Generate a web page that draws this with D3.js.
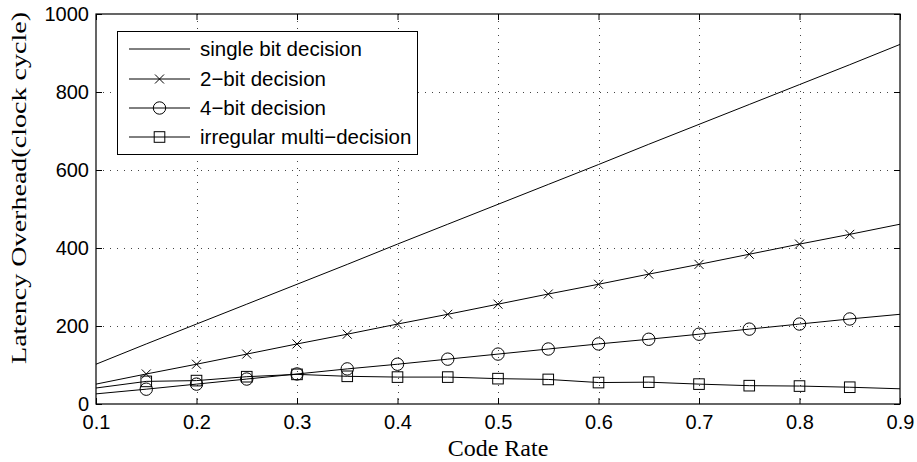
<!DOCTYPE html>
<html>
<head>
<meta charset="utf-8">
<script src="https://cdn.jsdelivr.net/npm/d3@7"></script>
<style>
html,body{margin:0;padding:0;background:#fff;}
svg{display:block;}
</style>
</head>
<body>
<svg id="chart" width="917" height="462"></svg>
<script>
// ---- data ----
const codeRates = [0.1,0.15,0.2,0.25,0.3,0.35,0.4,0.45,0.5,0.55,0.6,0.65,0.7,0.75,0.8,0.85,0.9];
const singleBit = [102,154,205,256,307,358,410,461,512,563,614,666,717,768,819,870,922];
const twoBit    = [51,77,102,128,154,179,205,230,256,282,307,333,358,384,410,435,461];
const fourBit   = [26,38,51,64,77,90,102,115,128,141,154,166,179,192,205,218,230];
const irregular = [41,58,60,70,76,71,69,69,65,63,55,56,51,47,46,43,39];
const seriesNames = ["single bit decision","2\u2212bit decision","4\u2212bit decision","irregular multi\u2212decision"];
const markerTypes = ["none","cross","circle","square"];
const xTicks = [0.1,0.2,0.3,0.4,0.5,0.6,0.7,0.8,0.9];
const yTicks = [0,200,400,600,800,1000];
const xLabel = "Code Rate";
const yLabel = "Latency Overhead(clock cycle)";

const allSeries = [singleBit, twoBit, fourBit, irregular];

const svg = d3.select("#chart");
const L = 96, R = 900, T = 14, B = 404;
const x = d3.scaleLinear().domain([0.1,0.9]).range([L,R]);
const y = d3.scaleLinear().domain([0,1000]).range([B,T]);

const SANS = "'Liberation Sans', Arial, Helvetica, sans-serif";
const SERIF = "'Liberation Serif', 'Times New Roman', serif";

// grid
const grid = svg.append("g").attr("stroke","#444").attr("stroke-width",1).attr("stroke-dasharray","1,6");
xTicks.slice(1,-1).forEach(t=>{
  grid.append("line").attr("x1",Math.round(x(t))+0.5).attr("x2",Math.round(x(t))+0.5).attr("y1",T).attr("y2",B);
});
yTicks.slice(1,-1).forEach(t=>{
  grid.append("line").attr("x1",L).attr("x2",R).attr("y1",Math.round(y(t))+0.5).attr("y2",Math.round(y(t))+0.5);
});

// axes (inside ticks, all four sides)
const axB = svg.append("g").attr("transform",`translate(0,${B})`)
  .call(d3.axisBottom(x).tickValues(xTicks).tickSizeInner(-6).tickSizeOuter(0).tickFormat(d3.format(".1f")));
const axT = svg.append("g").attr("transform",`translate(0,${T})`)
  .call(d3.axisTop(x).tickValues(xTicks).tickSizeInner(-6).tickSizeOuter(0).tickFormat(""));
const axL = svg.append("g").attr("transform",`translate(${L},0)`)
  .call(d3.axisLeft(y).tickValues(yTicks).tickSizeInner(-6).tickSizeOuter(0).tickFormat(d3.format("d")));
const axR = svg.append("g").attr("transform",`translate(${R},0)`)
  .call(d3.axisRight(y).tickValues(yTicks).tickSizeInner(-6).tickSizeOuter(0).tickFormat(""));
[axB,axT,axL,axR].forEach(a=>{
  a.select(".domain").remove();
  a.selectAll("line").attr("stroke","#000").attr("stroke-width",1);
  a.selectAll("text").attr("fill","#000").style("font-family",SANS).style("font-size","20px");
});
axB.selectAll("text").attr("y",11).attr("dy","0.71em");
axL.selectAll("text").attr("x",-7).attr("dy","0.3em");

// box
svg.append("rect").attr("x",L).attr("y",T).attr("width",R-L).attr("height",B-T)
  .attr("fill","none").attr("stroke","#000").attr("stroke-width",1.2);

// lines
const line = d3.line().x((d,i)=>x(codeRates[i])).y(d=>y(d));
const plot = svg.append("g");
allSeries.forEach(s=>{
  plot.append("path").attr("d",line(s)).attr("fill","none").attr("stroke","#000").attr("stroke-width",1);
});

function drawMarker(g, type, cx, cy){
  if(type==="cross"){
    const r=4.5;
    g.append("path").attr("d",`M${cx-r},${cy-r}L${cx+r},${cy+r}M${cx-r},${cy+r}L${cx+r},${cy-r}`)
      .attr("stroke","#000").attr("stroke-width",1).attr("fill","none");
  } else if(type==="circle"){
    g.append("circle").attr("cx",cx).attr("cy",cy).attr("r",6.2)
      .attr("stroke","#000").attr("stroke-width",1).attr("fill","none");
  } else if(type==="square"){
    const h=5.3;
    g.append("rect").attr("x",cx-h).attr("y",cy-h).attr("width",2*h).attr("height",2*h)
      .attr("stroke","#000").attr("stroke-width",1).attr("fill","none");
  }
}
allSeries.forEach((s,k)=>{
  if(markerTypes[k]==="none") return;
  s.forEach((v,i)=>{
    if(i===0 || i===s.length-1) return;
    drawMarker(plot, markerTypes[k], x(codeRates[i]), y(v));
  });
});

// legend
const lg = svg.append("g");
lg.append("rect").attr("x",117.5).attr("y",31.5).attr("width",300).attr("height",123)
  .attr("fill","#fff").attr("stroke","#000").attr("stroke-width",1);
const rowY = [49,79,108,137];
seriesNames.forEach((n,k)=>{
  const yy = rowY[k];
  lg.append("line").attr("x1",129).attr("x2",190).attr("y1",yy).attr("y2",yy).attr("stroke","#000").attr("stroke-width",1);
  drawMarker(lg, markerTypes[k], 159.5, yy);
  lg.append("text").attr("x",200).attr("y",yy+7).text(n)
    .style("font-family",SANS).style("font-size","20.5px").attr("fill","#000");
});

// axis labels
svg.append("text").attr("x",498).attr("y",456).attr("text-anchor","middle")
  .style("font-family",SERIF).style("font-size","24px").attr("fill","#000").text(xLabel);
svg.append("text").attr("transform",`translate(26,188) rotate(-90)`).attr("text-anchor","middle")
  .attr("textLength",352).attr("lengthAdjust","spacingAndGlyphs")
  .style("font-family",SERIF).style("font-size","22px").attr("fill","#000").text(yLabel);
</script>
</body>
</html>
